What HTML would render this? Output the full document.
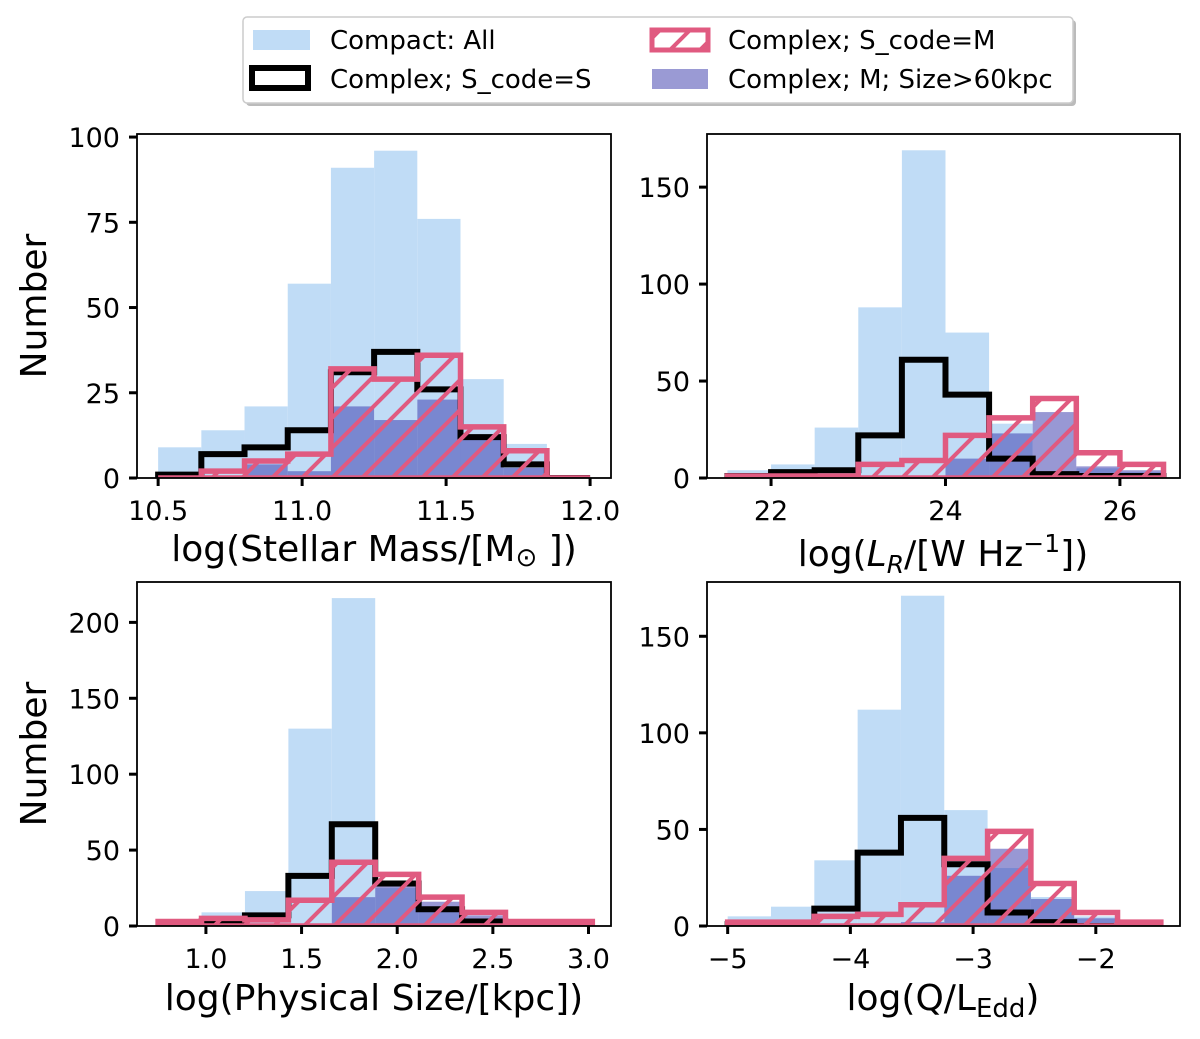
<!DOCTYPE html>
<html><head><meta charset="utf-8"><style>
body{margin:0;background:#fff;}
svg{display:block;font-family:"DejaVu Sans","Liberation Sans",sans-serif;}
</style></head><body>
<svg id="fig" width="1200" height="1039" viewBox="0 0 1200 1039" xmlns="http://www.w3.org/2000/svg">
<defs>
<pattern id="hatch" patternUnits="userSpaceOnUse" width="30" height="30">
<path d="M-8,38 L38,-8 M-38,38 L8,-8 M22,38 L68,-8" stroke="#e05a80" stroke-width="4"/>
</pattern>
</defs>
<g id="legend">
<rect x="246" y="20" width="830" height="86" fill="#bbb" rx="4"/>
<rect x="243" y="17" width="830" height="86" fill="#fff" stroke="#ccc" stroke-width="1.5" rx="4"/>
<rect x="253" y="30" width="57" height="20" fill="#c0dcf6"/>
<text x="330" y="49" font-size="26">Compact: All</text>
<rect x="252" y="68" width="56" height="20" fill="#fff" stroke="#000" stroke-width="6"/>
<text x="330" y="88" font-size="26">Complex; S_code=S</text>
<rect x="652" y="30" width="56" height="20" fill="url(#hatch)" stroke="#e05a80" stroke-width="5"/>
<text x="728" y="49" font-size="26">Complex; S_code=M</text>
<rect x="652" y="69" width="56" height="20" fill="#9a9ad4"/>
<text x="728" y="88" font-size="26">Complex; M; Size&gt;60kpc</text>
</g>
</svg>
<script>
// Panel 1: stellar mass
const massEdges = [10.5,10.65,10.8,10.95,11.1,11.25,11.4,11.55,11.7,11.85,12.0];
const massCompact = [9,14,21,57,91,96,76,29,10,0];
const massS = [1,7,9,14,31,37,26,12,4,0];
const massM = [0,2,5,7,32,29,36,15,8,0];
const massLarge = [0,0,4,2,21,17,23,12,3,0];
const massTicks = [10.5,11.0,11.5,12.0];
const massTickLabels = ["10.5","11.0","11.5","12.0"];
const massYTicks = [0,25,50,75,100];
// Panel 2: radio luminosity
const lrEdges = [21.5,22,22.5,23,23.5,24,24.5,25,25.5,26,26.5];
const lrCompact = [4,7,26,88,169,75,28,2,5,3];
const lrS = [1,3,4,22,61,43,10,2,1,1];
const lrM = [1,1,1,7,9,22,31,41,13,7];
const lrLarge = [0,0,0,0,1,10,23,34,6,4];
const lrTicks = [22,24,26];
const lrTickLabels = ["22","24","26"];
const lrYTicks = [0,50,100,150];
// Panel 3: physical size
const sizeEdges = [0.75,0.977,1.204,1.431,1.658,1.885,2.112,2.339,2.566,2.793,3.02];
const sizeCompact = [0,9,23,130,216,25,10,3,0,0];
const sizeS = [0,3,7,33,67,28,11,3,0,0];
const sizeM = [3,5,4,17,42,34,19,9,3,3];
const sizeLarge = [0,0,0,0,19,26,16,7,0,0];
const sizeTicks = [1.0,1.5,2.0,2.5,3.0];
const sizeTickLabels = ["1.0","1.5","2.0","2.5","3.0"];
const sizeYTicks = [0,50,100,150,200];
// Panel 4: Eddington ratio
const qEdges = [-5,-4.647,-4.294,-3.941,-3.588,-3.235,-2.882,-2.529,-2.176,-1.823,-1.47];
const qCompact = [5,10,34,112,171,60,30,15,5,0];
const qS = [1,1,9,38,56,32,7,2,0,0];
const qM = [2,2,5,6,11,35,49,22,7,2];
const qLarge = [0,0,0,0,2,26,40,14,4,0];
const qTicks = [-5,-4,-3,-2];
const qTickLabels = ["\u22125","\u22124","\u22123","\u22122"];
const qYTicks = [0,50,100,150];

const NS = "http://www.w3.org/2000/svg";
const svg = document.getElementById('fig');
function mk(tag, attrs, parent){const e=document.createElementNS(NS,tag);for(const k in attrs)e.setAttribute(k,attrs[k]);(parent||svg).appendChild(e);return e;}

function panel(name, box, xdom, ydom, edges, compact, sS, sM, large, xt, xtl, yt){
  const g = mk('g',{});
  
  
  const X = v => box.x0 + (v - xdom[0])/(xdom[1]-xdom[0])*(box.x1-box.x0);
  const Y = v => box.y1 - (v - ydom[0])/(ydom[1]-ydom[0])*(box.y1-box.y0);
  const clipId = name + '-clip';
  const cp = mk('clipPath',{id:clipId},g);
  mk('rect',{x:box.x0,y:box.y0,width:box.x1-box.x0,height:box.y1-box.y0},cp);
  const plot = mk('g',{'clip-path':'url(#'+clipId+')'},g);
  compact.forEach((v,i)=>{
    if(v<=0) return;
    const r = mk('rect',{x:X(edges[i]),y:Y(v),width:X(edges[i+1])-X(edges[i]),height:Y(0)-Y(v),fill:'#c0dcf6'},plot);
    
    
  });
  large.forEach((v,i)=>{
    if(v<=0) return;
    const r = mk('rect',{x:X(edges[i]),y:Y(v),width:X(edges[i+1])-X(edges[i]),height:Y(0)-Y(v),fill:'rgb(50,50,170)','fill-opacity':0.5},plot);
    
    
  });
  function stepPath(vals){
    let d = 'M'+X(edges[0])+','+Y(0);
    vals.forEach((v,i)=>{ d += ' L'+X(edges[i])+','+Y(v)+' L'+X(edges[i+1])+','+Y(v); });
    d += ' L'+X(edges[edges.length-1])+','+Y(0);
    return d;
  }
  const sp = mk('path',{d:stepPath(sS),fill:'none',stroke:'#000','stroke-width':6,'stroke-linejoin':'miter'},plot);
  
  
  const mp = mk('path',{d:stepPath(sM)+' Z',fill:'url(#hatch)',stroke:'#e05a80','stroke-width':5.5},plot);
  
  
  const fr = mk('rect',{x:box.x0,y:box.y0,width:box.x1-box.x0,height:box.y1-box.y0,fill:'none',stroke:'#000','stroke-width':1.8},g);
  
  
  xt.forEach((v,i)=>{
    mk('line',{x1:X(v),x2:X(v),y1:box.y1,y2:box.y1+8,stroke:'#000','stroke-width':3},g);
    const t = mk('text',{x:X(v),y:box.y1+42,'font-size':27,'text-anchor':'middle'},g);
    t.textContent = xtl[i];
    
    
  });
  yt.forEach(v=>{
    mk('line',{x1:box.x0-8,x2:box.x0,y1:Y(v),y2:Y(v),stroke:'#000','stroke-width':3},g);
    const t = mk('text',{x:box.x0-17,y:Y(v)+10,'font-size':27,'text-anchor':'end'},g);
    t.textContent = String(v);
    
    
  });
  return g;
}

const TL={x0:137,x1:611,y0:134,y1:478}, TR={x0:707,x1:1180,y0:134,y1:478};
const BL={x0:137,x1:611,y0:582,y1:926}, BR={x0:707,x1:1180,y0:582,y1:926};
panel('panel-stellar-mass', TL, [10.4266,12.0726], [0,100.9], massEdges, massCompact, massS, massM, massLarge, massTicks, massTickLabels, massYTicks);
panel('panel-radio-luminosity', TR, [21.2655,26.689], [0,177.4], lrEdges, lrCompact, lrS, lrM, lrLarge, lrTicks, lrTickLabels, lrYTicks);
panel('panel-physical-size', BL, [0.6397,3.1176], [0,226.6], sizeEdges, sizeCompact, sizeS, sizeM, sizeLarge, sizeTicks, sizeTickLabels, sizeYTicks);
panel('panel-eddington', BR, [-5.1685,-1.3139], [0,178.1], qEdges, qCompact, qS, qM, qLarge, qTicks, qTickLabels, qYTicks);

function label(x,y,html,name,rot){
  const t = mk('text',{x:x,y:y,'font-size':36,'text-anchor':'middle'});
  if(rot) t.setAttribute('transform','rotate(-90 '+x+' '+y+')');
  t.innerHTML = html;
  
  
}
label(374,561,'log(Stellar Mass/[M<tspan font-size="26" dy="5">\u2299</tspan><tspan dy="-5"> ])</tspan>','x-axis-title-mass');
label(943,566,'log(<tspan font-style="italic">L</tspan><tspan font-size="25" dy="7" font-style="italic">R</tspan><tspan dy="-7">/[W Hz</tspan><tspan font-size="25" dy="-14">\u22121</tspan><tspan dy="14">])</tspan>','x-axis-title-lr');
label(374,1010,'log(Physical Size/[kpc])','x-axis-title-size');
label(943,1010,'log(Q/L<tspan font-size="26" dy="7">Edd</tspan><tspan dy="-7">)</tspan>','x-axis-title-q');
label(46,306,'Number','y-axis-title-top',true);
label(46,754,'Number','y-axis-title-bottom',true);
</script>
</body></html>
